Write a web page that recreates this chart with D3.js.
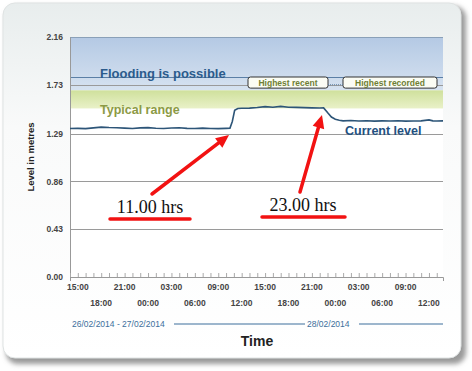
<!DOCTYPE html>
<html><head><meta charset="utf-8">
<script src="https://cdn.jsdelivr.net/npm/d3@7/dist/d3.min.js"></script>
<style>html,body{margin:0;padding:0;background:#fff;}svg{display:block;}</style>
</head><body>
<script>
// ---- data ----
const yTicks = [0.00, 0.43, 0.86, 1.29, 1.73, 2.16];
const readingHours = [14,15,16,17,18,19,20,21,22,23,24,25,26,27,28,29,30,31,32,33,34,34.5,34.8,35.1,35.5,36,37,38,39,40,41,42,43,44,45,46,46.5,47,47.5,48,48.5,49,50,51,52,53,54,55,56,57,58,59,60,60.5,61,61.8];
const levels = [1.336,1.338,1.335,1.342,1.349,1.345,1.343,1.340,1.337,1.342,1.344,1.339,1.337,1.341,1.343,1.338,1.336,1.340,1.337,1.335,1.338,1.340,1.40,1.50,1.517,1.519,1.520,1.525,1.533,1.528,1.536,1.528,1.527,1.524,1.522,1.521,1.522,1.48,1.44,1.42,1.41,1.405,1.408,1.404,1.406,1.403,1.405,1.404,1.406,1.403,1.404,1.405,1.414,1.405,1.404,1.405];
const typicalRange = [1.517, 1.68];
const floodBand = [1.68, 2.16];
const floodLevel = 1.80;
const tickLabelsRow1 = ["15:00","21:00","03:00","09:00","15:00","21:00","03:00","09:00"];
const tickLabelsRow2 = ["18:00","00:00","06:00","12:00","18:00","00:00","06:00","12:00"];
const dateLabels = ["26/02/2014 - 27/02/2014", "28/02/2014"];
const annotations = [{text:"11.00 hrs", hour:34.6, level:1.35}, {text:"23.00 hrs", hour:46.6, level:1.52}];
const markerLabels = ["Highest recent", "Highest recorded"];

const W = 472, H = 371;
const base = new Date(2014, 1, 26, 0, 0);
const hourToDate = h => new Date(base.getTime() + h * 3600e3);

const svg = d3.select("body").append("svg").attr("width", W).attr("height", H);
const defs = svg.append("defs");

// card gradients / shadow
const cg = defs.append("linearGradient").attr("id","card").attr("x1",0).attr("y1",0).attr("x2",0).attr("y2",1);
cg.append("stop").attr("offset","0%").attr("stop-color","#e8eded");
cg.append("stop").attr("offset","35%").attr("stop-color","#f9fafa");
cg.append("stop").attr("offset","100%").attr("stop-color","#ffffff");
const bg = defs.append("linearGradient").attr("id","blue").attr("x1",0).attr("y1",0).attr("x2",0).attr("y2",1);
bg.append("stop").attr("offset","0%").attr("stop-color","#b4c9e4");
bg.append("stop").attr("offset","100%").attr("stop-color","#d6e2f0");
const gg = defs.append("linearGradient").attr("id","green").attr("x1",0).attr("y1",0).attr("x2",0).attr("y2",1);
gg.append("stop").attr("offset","0%").attr("stop-color","#cfe09c");
gg.append("stop").attr("offset","100%").attr("stop-color","#e9f1c8");
const blur = defs.append("filter").attr("id","sh").attr("x","-10%").attr("y","-10%").attr("width","120%").attr("height","120%");
blur.append("feGaussianBlur").attr("stdDeviation",2.5);

svg.append("rect").attr("x",6).attr("y",6).attr("width",460).attr("height",358).attr("rx",12)
  .attr("fill","#9a9a9a").attr("filter","url(#sh)");
svg.append("rect").attr("x",3).attr("y",3).attr("width",458).attr("height",355).attr("rx",12)
  .attr("fill","url(#card)").attr("stroke","#dfe3e3");

// scales
const x = d3.scaleTime().domain([hourToDate(14), hourToDate(61.8)]).range([70, 443]);
const y = d3.scaleLinear().domain([0, 2.16]).range([277, 37]);

const plot = svg.append("g");
plot.append("rect").attr("x",70).attr("y",37).attr("width",373).attr("height",240).attr("fill","#fff");
plot.append("rect").attr("x",70).attr("y",y(floodBand[1])).attr("width",373)
  .attr("height",y(floodBand[0])-y(floodBand[1])).attr("fill","url(#blue)");
plot.append("rect").attr("x",70).attr("y",y(typicalRange[1])).attr("width",373)
  .attr("height",y(typicalRange[0])-y(typicalRange[1])).attr("fill","url(#green)");

// gridlines
plot.selectAll("line.grid").data(yTicks).join("line")
  .attr("x1",70).attr("x2",443).attr("y1",d=>Math.round(y(d))+0.5).attr("y2",d=>Math.round(y(d))+0.5)
  .attr("stroke",d=>d===2.16?"#8aa0b8":"#9a9a9a").attr("stroke-width",1);
// flood line
plot.append("line").attr("x1",70).attr("x2",443).attr("y1",Math.round(y(floodLevel))+0.5).attr("y2",Math.round(y(floodLevel))+0.5)
  .attr("stroke","#5b7fa6").attr("stroke-width",1.2);

// y axis
const yAxis = d3.axisLeft(y).tickValues(yTicks).tickFormat(d3.format(".2f")).tickSize(0).tickPadding(7);
const ya = svg.append("g").attr("transform","translate(70,0)").call(yAxis);
ya.select(".domain").attr("stroke","#999");
ya.selectAll("text").attr("font-family","Arial, Liberation Sans, sans-serif").attr("font-size",8.5).attr("font-weight","bold").attr("fill","#444");

// x axis with hourly ticks
const xAxis = d3.axisBottom(x).ticks(d3.timeHour.every(1)).tickSize(4).tickFormat("");
const xa = svg.append("g").attr("transform","translate(0,277)").call(xAxis);
xa.select(".domain").attr("stroke","#999");
xa.selectAll(".tick line").attr("stroke","#aaa").attr("transform","translate(0,-4)");

const labelHours = d3.range(15, 61, 3);
const lab = svg.append("g").attr("font-family","Arial, Liberation Sans, sans-serif").attr("font-size",8.5)
  .attr("font-weight","bold").attr("fill","#444").attr("text-anchor","middle");
labelHours.forEach((h,i) => {
  const row = i % 2;
  const txt = row === 0 ? tickLabelsRow1[i/2] : tickLabelsRow2[(i-1)/2];
  lab.append("text").attr("x", x(hourToDate(h))).attr("y", row===0 ? 290 : 306).text(txt);
});

// date line
const dl = svg.append("g").attr("font-family","Arial, Liberation Sans, sans-serif").attr("font-size",8.5).attr("fill","#3d6f9c");
dl.append("text").attr("x",72).attr("y",327).text(dateLabels[0]);
dl.append("line").attr("x1",174).attr("x2",305).attr("y1",324).attr("y2",324).attr("stroke","#3d6f9c");
dl.append("text").attr("x",307).attr("y",327).text(dateLabels[1]);
dl.append("line").attr("x1",359).attr("x2",443).attr("y1",324).attr("y2",324).attr("stroke","#3d6f9c");

svg.append("text").attr("x",257).attr("y",346).attr("text-anchor","middle")
  .attr("font-family","Arial, Liberation Sans, sans-serif").attr("font-size",14).attr("font-weight","bold").attr("fill","#222").text("Time");
svg.append("text").attr("transform","translate(34,157) rotate(-90)").attr("text-anchor","middle")
  .attr("font-family","Arial, Liberation Sans, sans-serif").attr("font-size",9.5).attr("font-weight","bold").attr("fill","#222").text("Level in metres");

// band labels
svg.append("text").attr("x",100).attr("y",78).attr("font-family","Arial, Liberation Sans, sans-serif")
  .attr("font-size",13).attr("font-weight","bold").attr("fill","#2b5b8c").text("Flooding is possible");
svg.append("text").attr("x",100).attr("y",114).attr("font-family","Arial, Liberation Sans, sans-serif")
  .attr("font-size",12.5).attr("font-weight","bold").attr("fill","#8c9a45").text("Typical range");

// marker boxes
const boxes = [{x0:248,x1:328},{x0:343,x1:437}];
boxes.forEach((b,i)=>{
  svg.append("rect").attr("x",b.x0).attr("y",y(1.80)).attr("width",b.x1-b.x0).attr("height",y(1.70)-y(1.80))
    .attr("rx",2.5).attr("fill","#fbfcf4").attr("stroke","#333").attr("stroke-width",1);
  svg.append("text").attr("x",(b.x0+b.x1)/2).attr("y",y(1.75)+3).attr("text-anchor","middle")
    .attr("font-family","Arial, Liberation Sans, sans-serif").attr("font-size",8.5).attr("font-weight","bold")
    .attr("fill","#6f7f35").text(markerLabels[i]);
});
svg.append("line").attr("x1",328).attr("x2",343).attr("y1",y(1.73)).attr("y2",y(1.73)).attr("stroke","#5b7fa6").attr("stroke-dasharray","1,1");

// level line
const line = d3.line().x((d,i)=>x(hourToDate(readingHours[i]))).y(d=>y(d));
svg.append("path").datum(levels).attr("d",line).attr("fill","none").attr("stroke","#2d5578").attr("stroke-width",1.6);

svg.append("text").attr("x",345).attr("y",135).attr("font-family","Arial, Liberation Sans, sans-serif")
  .attr("font-size",12.5).attr("font-weight","bold").attr("fill","#23507f").text("Current level");

// annotations: arrows and labels
const an = [{tail:[152,194], head:[229,135], tx:150, ty:213, u:[110,190,219]},
            {tail:[300,192], head:[322,115], tx:303, ty:211, u:[262,345,217]}];
an.forEach((a,i)=>{
  const [tx,ty]=a.tail,[hx,hy]=a.head;
  const ang=Math.atan2(hy-ty,hx-tx), L=13, wdt=6;
  const bx=hx-L*Math.cos(ang), by=hy-L*Math.sin(ang);
  svg.append("line").attr("x1",tx).attr("y1",ty).attr("x2",bx).attr("y2",by).attr("stroke","#f21212").attr("stroke-width",3.5).attr("stroke-linecap","round");
  const px=-Math.sin(ang), py=Math.cos(ang);
  svg.append("path").attr("d",`M${hx},${hy}L${bx+px*wdt},${by+py*wdt}L${bx-px*wdt},${by-py*wdt}Z`).attr("fill","#f21212");
  svg.append("text").attr("x",a.tx).attr("y",a.ty).attr("text-anchor","middle")
    .attr("font-family","Liberation Serif, Times New Roman, serif").attr("font-size",18).attr("fill","#111").text(annotations[i].text);
  svg.append("line").attr("x1",a.u[0]).attr("x2",a.u[1]).attr("y1",a.u[2]).attr("y2",a.u[2]).attr("stroke","#f21212").attr("stroke-width",3.5).attr("stroke-linecap","round");
});
</script>
</body></html>
